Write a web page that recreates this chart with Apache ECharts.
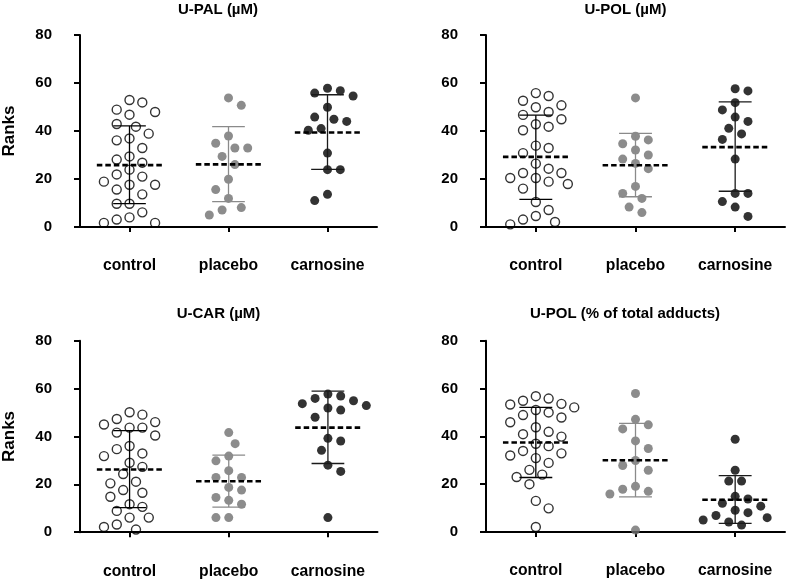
<!DOCTYPE html>
<html>
<head>
<meta charset="utf-8">
<script src="https://cdn.jsdelivr.net/npm/echarts@6/dist/echarts.min.js"></script>
<style>
html,body{margin:0;padding:0;background:#fff;}
#chart{width:787px;height:581px;}
</style>
</head>
<body>
<div id="chart"></div>
<script>
// ---------- data ----------
const categories = ['control', 'placebo', 'carnosine'];
const yTicks = [0, 20, 40, 60, 80];
const panelTitles = ['U-PAL (µM)', 'U-POL (µM)', 'U-CAR (µM)', 'U-POL (% of total adducts)'];
const yAxisName = 'Ranks';

// U-PAL (µM)
const palControl = [51.9, 52.9, 47.9, 46.8, 48.9, 42.9, 41.8, 38.9, 36.1, 36.9, 32.9, 29.4, 28.1, 26.8, 23.9, 21.9, 21.0, 18.9, 17.6, 17.6, 15.6, 13.6, 9.7, 9.7, 6.1, 3.1, 1.7, 1.7, 4.0];
const palPlacebo = [53.8, 50.7, 37.9, 34.9, 32.9, 32.9, 29.4, 26.0, 19.9, 15.6, 11.9, 8.1, 5.0, 7.1];
const palCarnosine = [57.8, 55.8, 54.6, 56.8, 49.9, 44.9, 45.8, 44.0, 41.0, 40.3, 30.8, 23.9, 23.9, 13.6, 11.0];
const palMean = [25.8, 26.1, 39.4];
const palSdLow = [9.7, 10.6, 24.0];
const palSdHigh = [42.1, 41.8, 55.1];

// U-POL (µM)
const polControl = [54.6, 55.8, 52.6, 49.9, 50.7, 46.7, 47.9, 44.9, 41.8, 42.8, 40.3, 33.9, 32.9, 30.8, 26.4, 24.3, 20.4, 22.5, 22.5, 20.4, 18.9, 17.9, 16.0, 10.4, 7.1, 4.6, 3.1, 2.1, 1.1];
const polPlacebo = [53.8, 36.3, 37.8, 32.1, 34.7, 28.3, 30.0, 26.5, 24.3, 16.9, 14.0, 11.9, 6.0, 8.3];
const polCarnosine = [56.7, 57.6, 51.8, 48.8, 45.8, 44.0, 41.1, 38.8, 36.5, 28.3, 14.0, 14.0, 10.6, 8.3, 4.4];
const polMean = [29.2, 25.7, 33.3];
const polSdLow = [11.5, 12.6, 14.9];
const polSdHigh = [46.6, 39.0, 52.1];

// U-CAR (µM)
const carControl = [50.1, 49.1, 47.3, 46.0, 45.0, 43.7, 43.7, 40.4, 41.6, 36.0, 34.7, 31.8, 32.9, 29.0, 27.3, 24.3, 21.1, 17.6, 20.4, 16.5, 14.8, 11.7, 10.6, 8.9, 6.1, 6.1, 3.2, 1.1, 2.2];
const carPlacebo = [41.6, 37.0, 31.8, 29.8, 25.7, 22.9, 22.9, 17.6, 18.7, 14.5, 13.3, 11.7, 6.1, 6.1];
const carCarnosine = [57.7, 56.9, 55.9, 53.7, 54.9, 52.9, 51.0, 51.9, 48.0, 39.2, 38.1, 34.2, 28.0, 25.4, 6.1];
const carMean = [26.2, 21.3, 43.7];
const carSdLow = [10.3, 10.5, 28.7];
const carSdHigh = [42.4, 32.2, 58.9];

// U-POL (% of total adducts)
const polPctControl = [56.8, 54.9, 53.6, 52.1, 53.3, 55.8, 51.0, 48.9, 45.9, 47.9, 50.0, 43.8, 40.9, 39.9, 41.9, 36.9, 35.9, 33.9, 32.0, 30.9, 32.9, 28.9, 26.0, 24.0, 23.0, 20.0, 13.0, 9.9, 2.1];
const polPctPlacebo = [57.9, 47.1, 44.8, 43.1, 38.1, 34.9, 29.9, 27.8, 25.8, 19.1, 17.0, 15.9, 17.9, 0.8];
const polPctCarnosine = [38.8, 25.8, 21.3, 21.3, 14.9, 13.8, 12.0, 10.8, 9.1, 8.1, 6.9, 6.0, 5.0, 4.2, 2.9];
const polPctMean = [37.4, 30.0, 13.5];
const polPctSdLow = [22.8, 14.7, 3.6];
const polPctSdHigh = [52.1, 45.4, 23.6];

// ---------- assembly ----------
const panels = [
  { groups: [palControl, palPlacebo, palCarnosine], mean: palMean, lo: palSdLow, hi: palSdHigh },
  { groups: [polControl, polPlacebo, polCarnosine], mean: polMean, lo: polSdLow, hi: polSdHigh },
  { groups: [carControl, carPlacebo, carCarnosine], mean: carMean, lo: carSdLow, hi: carSdHigh },
  { groups: [polPctControl, polPctPlacebo, polPctCarnosine], mean: polPctMean, lo: polPctSdLow, hi: polPctSdHigh }
];

const FONT = '"Liberation Sans", Arial, sans-serif';
const grids = [
  { left: 78.5, top: 35, width: 298.5, height: 192 },
  { left: 486, top: 35, width: 299, height: 192 },
  { left: 79, top: 340.7, width: 298.5, height: 191.5 },
  { left: 486, top: 340.7, width: 299, height: 191.3 }
];
const titlePos = [
  { left: 218, top: 2 }, { left: 625.5, top: 2 },
  { left: 218.5, top: 306 }, { left: 625, top: 306 }
];
const pointStyles = [
  { color: 'rgba(255,255,255,0)', borderColor: '#000', borderWidth: 1.4 },
  { color: '#6f6f6f', borderWidth: 0 },
  { color: '#000', borderWidth: 0 }
];
const barColors = ['#000', '#8a8a8a', '#1a1a1a'];

const xAxes = [], yAxes = [], series = [];
panels.forEach((p, pi) => {
  xAxes.push({
    type: 'category', gridIndex: pi, data: categories, offset: 21, boundaryGap: true,
    axisLine: { show: true, lineStyle: { color: '#000', width: 2 } },
    axisTick: { show: true, alignWithLabel: true, length: 5, lineStyle: { color: '#000', width: 2 } },
    axisLabel: { interval: 0, margin: 10, color: '#000', fontSize: 15.7, fontWeight: 'bold', fontFamily: FONT },
    splitLine: { show: false }
  });
  xAxes.push({ type: 'value', gridIndex: pi, min: 0, max: 3, show: false });
  yAxes.push({
    type: 'value', gridIndex: pi, min: yTicks[0], max: yTicks[yTicks.length - 1], interval: 20, offset: 20,
    name: (pi % 2 === 0) ? yAxisName : '', nameLocation: 'middle', nameRotate: 90, nameGap: 42,
    nameTextStyle: { color: '#000', fontSize: 17, fontWeight: 'bold', fontFamily: FONT },
    axisLine: { show: true, lineStyle: { color: '#000', width: 2 } },
    axisTick: { show: true, length: 6, lineStyle: { color: '#000', width: 2 } },
    axisLabel: { margin: 8, color: '#000', fontSize: 15, fontWeight: 'bold', fontFamily: FONT },
    splitLine: { show: false }
  });
  p.groups.forEach((vals, gi) => {
    series.push({
      id: 's' + pi + '_' + gi, type: 'scatter', xAxisIndex: pi * 2 + 1, yAxisIndex: pi,
      symbol: 'circle', symbolSize: 9, itemStyle: pointStyles[gi], z: 2,
      data: vals.map(v => [gi + 0.5, v])
    });
  });
  series.push({
    id: 'e' + pi, type: 'custom', xAxisIndex: pi * 2 + 1, yAxisIndex: pi, z: 5,
    data: categories.map((c, gi) => [gi, p.mean[gi], p.lo[gi], p.hi[gi]]),
    renderItem: function (params, api) {
      const gi = api.value(0);
      const x = gi + 0.5;
      const pm = api.coord([x, api.value(1)]);
      const pl = api.coord([x, api.value(2)]);
      const ph = api.coord([x, api.value(3)]);
      const capW = api.size([0.165, 0])[0];
      const meanW = api.size([0.33, 0])[0];
      const col = barColors[gi];
      const st = { stroke: col, lineWidth: 1.3 };
      return {
        type: 'group', children: [
          { type: 'line', shape: { x1: pl[0], y1: pl[1], x2: ph[0], y2: ph[1] }, style: st },
          { type: 'line', shape: { x1: pl[0] - capW, y1: pl[1], x2: pl[0] + capW, y2: pl[1] }, style: st },
          { type: 'line', shape: { x1: ph[0] - capW, y1: ph[1], x2: ph[0] + capW, y2: ph[1] }, style: st },
          { type: 'line', shape: { x1: pm[0] - meanW, y1: pm[1], x2: pm[0] + meanW, y2: pm[1] },
            style: { stroke: '#000', lineWidth: 2.6, lineDash: [5.5, 3] } }
        ]
      };
    }
  });
});

const option = {
  animation: false,
  backgroundColor: '#fff',
  title: panelTitles.map((t, i) => ({
    text: t, left: titlePos[i].left, top: titlePos[i].top, textAlign: 'center', padding: 0,
    textStyle: { color: '#000', fontSize: 15, fontWeight: 'bold', fontFamily: FONT }
  })),
  grid: grids,
  xAxis: xAxes,
  yAxis: yAxes,
  series: series
};

const chart = echarts.init(document.getElementById('chart'), null, { renderer: 'canvas' });
chart.setOption(option);

// beeswarm layout of the points, computed through the chart's own scales
function swarm(seriesIndex, gi, values) {
  const step = 6.4, D = 12.4;
  const cx = chart.convertToPixel({ seriesIndex: seriesIndex }, [gi + 0.5, 0])[0];
  const order = values.map((v, i) => i).sort((a, b) => values[b] - values[a]);
  const placed = [];
  const out = new Array(values.length);
  let flip = 1;
  order.forEach(i => {
    const py = chart.convertToPixel({ seriesIndex: seriesIndex }, [gi + 0.5, values[i]])[1];
    let chosen = null;
    for (let n = 0; n < 30 && chosen === null; n++) {
      const cands = n === 0 ? [0] : [n * flip, -n * flip];
      for (const c of cands) {
        const px = cx + c * step;
        if (placed.every(q => (q[0] - px) * (q[0] - px) + (q[1] - py) * (q[1] - py) >= D * D)) { chosen = px; break; }
      }
    }
    if (chosen > cx + 0.1) flip = -1; else if (chosen < cx - 0.1) flip = 1;
    placed.push([chosen, py]);
    out[i] = [chart.convertFromPixel({ seriesIndex: seriesIndex }, [chosen, py])[0], values[i]];
  });
  return out;
}

const updates = [];
panels.forEach((p, pi) => {
  p.groups.forEach((vals, gi) => {
    const si = pi * 4 + gi;
    updates.push({ id: 's' + pi + '_' + gi, data: swarm(si, gi, vals) });
  });
});
chart.setOption({ series: updates });
</script>
</body>
</html>
